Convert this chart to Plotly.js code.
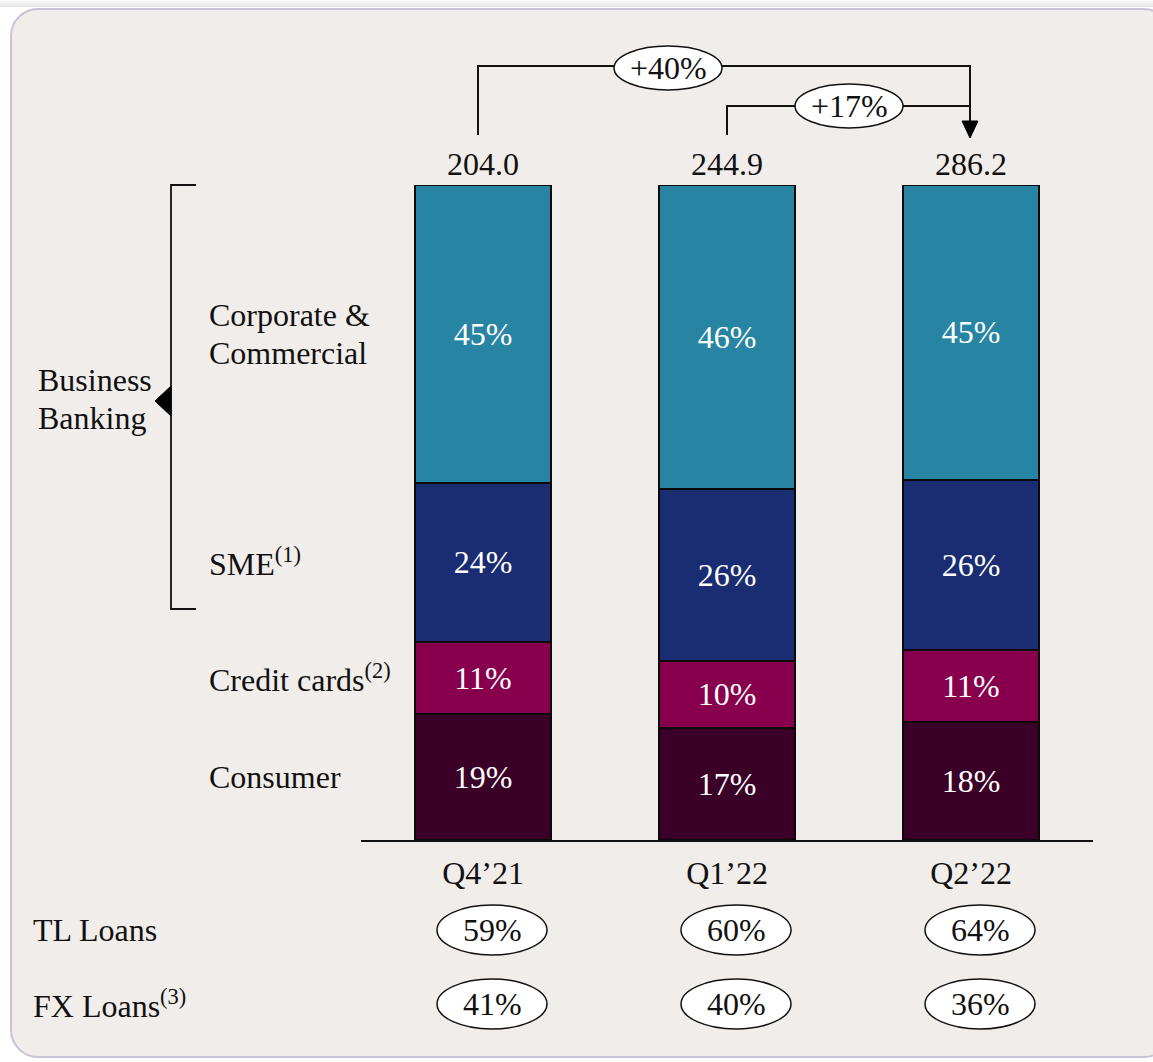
<!DOCTYPE html>
<html><head><meta charset="utf-8">
<script src="https://cdn.plot.ly/plotly-3.0.1.min.js"></script>
<style>
html,body{margin:0;padding:0;background:#fff;width:1153px;height:1062px;overflow:hidden}
#topbar{position:absolute;left:0;top:0;width:1153px;height:7px;background:linear-gradient(#fafafa,#e6e6e6)}
#bg{position:absolute;left:10px;top:8px;width:1162px;height:1050px;background:#F0EDEA;border:2px solid #CAC1D7;border-radius:28px;box-sizing:border-box}
#chart{position:absolute;left:0;top:0;width:1153px;height:1062px}
</style></head><body>
<div id="topbar"></div><div id="bg"></div><div id="chart"></div>
<script>
// ---- data ----
const quarters = ['Q4\u201921', 'Q1\u201922', 'Q2\u201922'];
const totals = [204.0, 244.9, 286.2];
const consumer = [19, 17, 18];
const creditCards = [11, 10, 11];
const sme = [24, 26, 26];
const corporate = [45, 46, 45];
const tlLoans = [59, 60, 64];
const fxLoans = [41, 40, 36];
const growthLabels = ['+40%', '+17%'];
const segmentNames = ['Consumer', 'Credit cards<sup>(2)</sup>', 'SME<sup>(1)</sup>', 'Corporate &<br>Commercial'];
const rowNames = ['TL Loans', 'FX Loans<sup>(3)</sup>'];
const groupName = 'Business<br>Banking';

// ---- style ----
const FONT = '"Liberation Serif", "Times New Roman", serif';
const FS = 32;
const LINE = 38;
const colors = ['#3B0027', '#88004D', '#1A2C72', '#2785A3'];
const segments = [consumer, creditCards, sme, corporate];

// pixel -> paper helpers for decorations
const L = 361, R = 60, T = 185, B = 222, W = 1153 - L - R, H = 1062 - T - B;
const px = v => (v - L) / W;
const py = v => (840 - v) / H;
const P = (x, y) => px(x) + ',' + py(y);

const traces = segments.map((vals, k) => ({
  type: 'bar',
  x: quarters,
  y: vals,
  name: segmentNames[k],
  text: vals.map(v => v + '%'),
  texttemplate: '%{text}',
  textposition: 'inside',
  insidetextanchor: 'middle',
  textangle: 0,
  textfont: {family: FONT, size: FS, color: '#ffffff'},
  marker: {color: colors[k], line: {color: '#0a0a0a', width: 2}},
  width: 0.557,
  hoverinfo: 'skip'
}));

const annotations = [];
const shapes = [];

// multi-line label as separate line annotations with fixed line spacing
function addLines(text, base) {
  const lines = text.split('<br>');
  const n = lines.length;
  lines.forEach((ln, j) => {
    annotations.push(Object.assign({}, base, {text: ln, yshift: ((n - 1) / 2 - j) * LINE}));
  });
}

// totals above bars
quarters.forEach((q, i) => {
  annotations.push({x: q, y: 100, xref: 'x', yref: 'y', yanchor: 'bottom', yshift: 1,
    text: totals[i].toFixed(1), showarrow: false, font: {family: FONT, size: FS, color: '#111'}});
});

// segment labels on left, aligned to first bar's segment centers
const firstSum = segments.reduce((s, a) => s + a[0], 0);
let cum = 0;
segments.forEach((vals, k) => {
  const share = vals[0] / firstSum * 100;
  const mid = cum + share / 2;
  cum += share;
  addLines(segmentNames[k], {x: px(207), xref: 'paper', y: mid, yref: 'y', xanchor: 'left', yanchor: 'middle',
    align: 'left', showarrow: false, font: {family: FONT, size: FS, color: '#111'}});
});

addLines(groupName, {x: px(36), xref: 'paper', y: py(399), yref: 'paper', xanchor: 'left', yanchor: 'middle',
  align: 'left', showarrow: false, font: {family: FONT, size: FS, color: '#111'}});

// bracket
shapes.push({type: 'path', xref: 'paper', yref: 'paper',
  path: 'M' + P(196, 185) + ' L' + P(171, 185) + ' L' + P(171, 609) + ' L' + P(196, 609),
  line: {color: '#111', width: 1.8}});
shapes.push({type: 'path', xref: 'paper', yref: 'paper',
  path: 'M' + P(171, 386) + ' L' + P(155, 401) + ' L' + P(171, 416) + ' Z',
  fillcolor: '#000', line: {color: '#000', width: 1}});

// loan rows
const rowY = [930, 1004];
[tlLoans, fxLoans].forEach((vals, r) => {
  annotations.push({x: px(31), xref: 'paper', y: py(rowY[r]), yref: 'paper', xanchor: 'left', yanchor: 'middle',
    text: rowNames[r], showarrow: false, font: {family: FONT, size: FS, color: '#111'}});
  vals.forEach((v, i) => {
    const cx = i + 9 / 244;
    shapes.push({type: 'circle', xref: 'x', yref: 'paper',
      x0: cx - 55 / 244, x1: cx + 55 / 244, y0: py(rowY[r] - 25), y1: py(rowY[r] + 25),
      fillcolor: '#ffffff', line: {color: '#111', width: 1.5}});
    annotations.push({x: cx, xref: 'x', y: py(rowY[r]), yref: 'paper', xanchor: 'center', yanchor: 'middle',
      text: v + '%', showarrow: false, font: {family: FONT, size: FS, color: '#111'}});
  });
});

// growth arrows
shapes.push({type: 'path', xref: 'paper', yref: 'paper',
  path: 'M' + P(478, 135) + ' L' + P(478, 66) + ' L' + P(970, 66) + ' L' + P(970, 124),
  line: {color: '#111', width: 2}});
shapes.push({type: 'path', xref: 'paper', yref: 'paper',
  path: 'M' + P(727, 135) + ' L' + P(727, 106) + ' L' + P(970, 106),
  line: {color: '#111', width: 2}});
shapes.push({type: 'path', xref: 'paper', yref: 'paper',
  path: 'M' + P(962, 121) + ' L' + P(978, 121) + ' L' + P(970, 138) + ' Z',
  fillcolor: '#000', line: {color: '#000', width: 1}});
const growthPos = [[668, 68], [849, 106]];
growthLabels.forEach((g, j) => {
  const [gx, gy] = growthPos[j];
  shapes.push({type: 'circle', xref: 'paper', yref: 'paper',
    x0: px(gx - 54), x1: px(gx + 54), y0: py(gy - 22), y1: py(gy + 22),
    fillcolor: '#ffffff', line: {color: '#111', width: 1.5}});
  annotations.push({x: px(gx), xref: 'paper', y: py(gy), yref: 'paper', xanchor: 'center', yanchor: 'middle',
    text: g, showarrow: false, font: {family: FONT, size: FS, color: '#111'}});
});

const layout = {
  width: 1153, height: 1062,
  margin: {l: L, r: R, t: T, b: B, pad: 0},
  paper_bgcolor: 'rgba(0,0,0,0)',
  plot_bgcolor: 'rgba(0,0,0,0)',
  barmode: 'stack',
  barnorm: 'percent',
  showlegend: false,
  font: {family: FONT, color: '#111'},
  xaxis: {type: 'category', range: [-0.5, 2.5], showline: true, linecolor: '#111', linewidth: 2,
    ticks: '', showgrid: false, zeroline: false, fixedrange: true,
    tickfont: {family: FONT, size: FS, color: '#111'}, ticklabelstandoff: 4},
  yaxis: {range: [0, 100], visible: false, showgrid: false, zeroline: false, fixedrange: true},
  annotations: annotations,
  shapes: shapes
};

Plotly.newPlot('chart', traces, layout, {displayModeBar: false, staticPlot: true});
</script>
</body></html>
